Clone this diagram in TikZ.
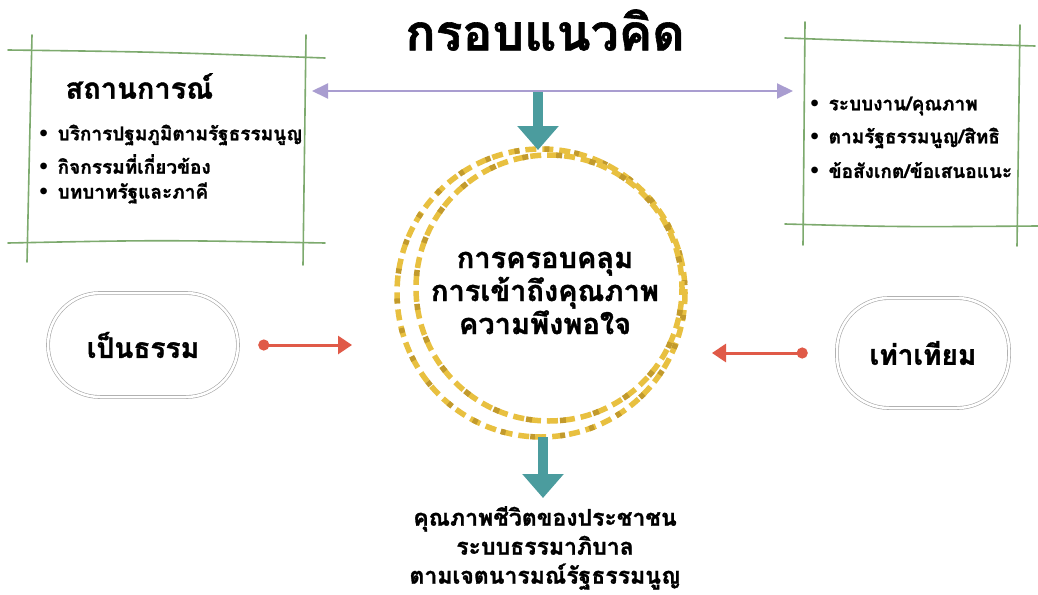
\documentclass[tikz,border=0pt]{standalone}
\usepackage{fontspec}
\newfontfamily\thai[Script=Thai,BoldFeatures={FakeBold=1.2}]{Loma}
\newfontfamily\dv{DejaVu Sans}
\usetikzlibrary{arrows.meta}
\definecolor{sketchgreen}{HTML}{7DAA6E}
\definecolor{lav}{HTML}{A99DD0}
\definecolor{tealc}{HTML}{4B9C9E}
\definecolor{redc}{HTML}{E05A48}
\definecolor{goldA}{HTML}{E8C040}
\definecolor{goldB}{HTML}{C29A2C}
\begin{document}
\begin{tikzpicture}[x=1pt,y=-1pt,font=\thai\bfseries,
  sketch/.style={draw=sketchgreen,line width=1.6pt,line cap=round},
  tealarrow/.style={draw=tealc,line width=10pt,-{Triangle[width=40pt,length=24pt]}},
  redarrow/.style={draw=redc,line width=3pt,{Circle[length=11pt]}-{Triangle[length=14pt,width=18pt]}},
  pill/.style={draw=gray!70,line width=0.6pt,double=white,double distance=2.5pt,rounded corners=52pt,inner sep=0pt},
  bul/.style={anchor=west,font=\thai\bfseries\fontsize{19}{22}\selectfont},
  goldring/.style={line width=5.5pt,dash pattern=on 11pt off 6pt}]
\useasboundingbox[fill=white] (0,0) rectangle (1038,594);
% title
\node[font=\thai\bfseries\fontsize{50}{56}\selectfont] (title) at (545,30) {กรอบแนวคิด};
% left box sketch
\draw[sketch] (8,50) .. controls (160,52) .. (325,58);
\draw[sketch] (8,243) .. controls (160,240) .. (325,243);
\draw[sketch] (32,35) -- (27,262);
\draw[sketch] (306,35) -- (303,265);
\node[anchor=west,font=\thai\bfseries\fontsize{29}{32}\selectfont] (lhead) at (62,86) {สถานการณ์};
\node[bul] (l1) at (34,135) {{\dv •}\hspace{8pt}บริการปฐมภูมิตามรัฐธรรมนูญ};
\node[bul] (l2) at (34,164) {{\dv •}\hspace{8pt}กิจกรรมที่เกี่ยวข้อง};
\node[bul] (l3) at (34,193) {{\dv •}\hspace{8pt}บทบาทรัฐและภาคี};
% right box sketch
\draw[sketch] (785,38) .. controls (900,42) .. (1035,46);
\draw[sketch] (785,224) .. controls (900,227) .. (1038,226);
\draw[sketch] (805,22) -- (803,245);
\draw[sketch] (1020,25) -- (1017,246);
\node[bul] (r1) at (805,106) {{\dv •}\hspace{8pt}ระบบงาน/คุณภาพ};
\node[bul] (r2) at (805,138) {{\dv •}\hspace{8pt}ตามรัฐธรรมนูญ/สิทธิ};
\node[bul] (r3) at (805,170) {{\dv •}\hspace{8pt}ข้อสังเกต/ข้อเสนอแนะ};
% purple double arrow
\coordinate (pl) at (312,91);
\coordinate (pr) at (793,91);
\draw[draw=lav,line width=2pt,{Triangle[length=16pt,width=15pt]}-{Triangle[length=16pt,width=15pt]}] (pl) -- (pr);
% core circle
\node[circle,minimum size=284pt,align=center,inner sep=0pt,
  font=\thai\bfseries\fontsize{29}{33}\selectfont] (core) at (545,293)
  {การครอบคลุม\\การเข้าถึงคุณภาพ\\ความพึงพอใจ};
\draw[goldring,draw=goldA] (541,293) circle (144);
\draw[goldring,draw=goldB,dash phase=8pt,dash pattern=on 5pt off 25pt] (541,293) circle (144);
\draw[goldring,draw=goldA,dash phase=4pt] (549,288) circle (133);
\draw[goldring,draw=goldB,dash phase=12pt,dash pattern=on 6pt off 28pt] (549,288) circle (133);
% teal arrows
\coordinate (ttop) at (538,92);
\draw[tealarrow] (ttop) -- (538,150);
\node[align=center,font=\thai\bfseries\fontsize{23}{29}\selectfont] (out) at (545,548)
  {คุณภาพชีวิตของประชาชน\\ระบบธรรมาภิบาล\\ตามเจตนารมณ์รัฐธรรมนูญ};
\coordinate (btip) at (543,498);
\draw[tealarrow] ([xshift=-2pt,yshift=-2pt]core.south) -- (btip);
% pills
\node[pill,minimum width=190pt,minimum height=104pt,font=\thai\bfseries\fontsize{28}{30}\selectfont] (fair) at (143,345) {เป็นธรรม};
\node[pill,minimum width=172pt,minimum height=110pt,font=\thai\bfseries\fontsize{28}{30}\selectfont] (equal) at (923,353) {เท่าเทียม};
\coordinate (lt) at (352,345);
\coordinate (rt) at (712,353);
\draw[redarrow] ([xshift=20pt]fair.east) -- (lt);
\draw[redarrow] ([xshift=-29pt]equal.west) -- (rt);
\end{tikzpicture}
\end{document}
